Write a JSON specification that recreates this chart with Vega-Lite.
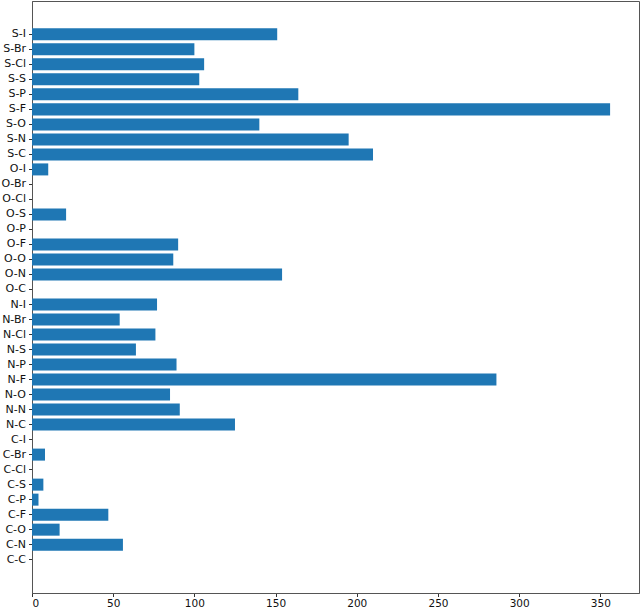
{
  "$schema": "https://vega.github.io/schema/vega-lite/v6.json",
  "autosize": {"type": "none"},
  "padding": {"left": 32, "top": 1, "right": 1, "bottom": 15},
  "width": 607,
  "height": 592,
  "data": {
    "values": [
      {"bond": "C-C", "count": 0},
      {"bond": "C-N", "count": 56},
      {"bond": "C-O", "count": 17},
      {"bond": "C-F", "count": 47},
      {"bond": "C-P", "count": 4},
      {"bond": "C-S", "count": 7},
      {"bond": "C-Cl", "count": 0},
      {"bond": "C-Br", "count": 8},
      {"bond": "C-I", "count": 0},
      {"bond": "N-C", "count": 125},
      {"bond": "N-N", "count": 91},
      {"bond": "N-O", "count": 85},
      {"bond": "N-F", "count": 286},
      {"bond": "N-P", "count": 89},
      {"bond": "N-S", "count": 64},
      {"bond": "N-Cl", "count": 76},
      {"bond": "N-Br", "count": 54},
      {"bond": "N-I", "count": 77},
      {"bond": "O-C", "count": 0},
      {"bond": "O-N", "count": 154},
      {"bond": "O-O", "count": 87},
      {"bond": "O-F", "count": 90},
      {"bond": "O-P", "count": 0},
      {"bond": "O-S", "count": 21},
      {"bond": "O-Cl", "count": 0},
      {"bond": "O-Br", "count": 0},
      {"bond": "O-I", "count": 10},
      {"bond": "S-C", "count": 210},
      {"bond": "S-N", "count": 195},
      {"bond": "S-O", "count": 140},
      {"bond": "S-F", "count": 356},
      {"bond": "S-P", "count": 164},
      {"bond": "S-S", "count": 103},
      {"bond": "S-Cl", "count": 106},
      {"bond": "S-Br", "count": 100},
      {"bond": "S-I", "count": 151}
    ]
  },
  "mark": {"type": "bar", "color": "#1f77b4"},
  "encoding": {
    "y": {
      "field": "bond",
      "type": "nominal",
      "scale": {
        "domain": ["pad-lo", "C-C", "C-N", "C-O", "C-F", "C-P", "C-S", "C-Cl", "C-Br", "C-I",
                   "N-C", "N-N", "N-O", "N-F", "N-P", "N-S", "N-Cl", "N-Br", "N-I",
                   "O-C", "O-N", "O-O", "O-F", "O-P", "O-S", "O-Cl", "O-Br", "O-I",
                   "S-C", "S-N", "S-O", "S-F", "S-P", "S-S", "S-Cl", "S-Br", "S-I", "pad-hi"],
        "reverse": true,
        "paddingInner": 0.2,
        "paddingOuter": 0.82
      },
      "axis": {
        "title": null,
        "values": ["C-C", "C-N", "C-O", "C-F", "C-P", "C-S", "C-Cl", "C-Br", "C-I",
                   "N-C", "N-N", "N-O", "N-F", "N-P", "N-S", "N-Cl", "N-Br", "N-I",
                   "O-C", "O-N", "O-O", "O-F", "O-P", "O-S", "O-Cl", "O-Br", "O-I",
                   "S-C", "S-N", "S-O", "S-F", "S-P", "S-S", "S-Cl", "S-Br", "S-I"],
        "labelFontSize": 11,
        "labelPadding": 3
      }
    },
    "x": {
      "field": "count",
      "type": "quantitative",
      "scale": {"domain": [0, 373.8], "nice": false},
      "axis": {"title": null, "values": [0, 50, 100, 150, 200, 250, 300, 350]}
    }
  },
  "config": {
    "view": {"stroke": "#555", "strokeWidth": 1},
    "axis": {
      "grid": false,
      "domainColor": "#555",
      "tickColor": "#333",
      "tickSize": 3.5,
      "labelFont": "DejaVu Sans",
      "labelFontSize": 10.5,
      "labelColor": "#111",
      "labelPadding": 2
    }
  }
}
